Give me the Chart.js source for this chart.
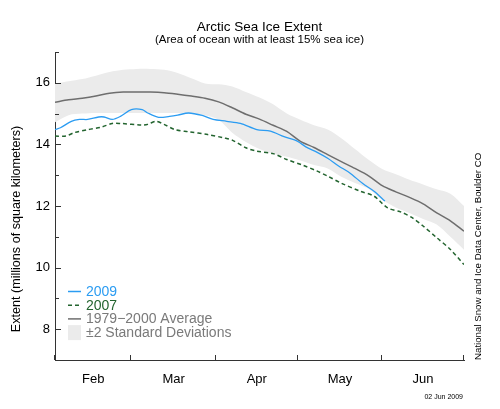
<!DOCTYPE html>
<html>
<head>
<meta charset="utf-8">
<script src="https://cdn.jsdelivr.net/npm/chart.js@4"></script>
<style>
  body { margin: 0; background: #fff; }
  #wrap { width: 500px; height: 409px; }
</style>
</head>
<body>
<div id="wrap"><canvas id="iceChart" width="500" height="409"></canvas></div>
<script>
// x values are days since Feb 1 (Feb 1 = 0, Jul 1 = 150)
const monthLabels = ['Feb', 'Mar', 'Apr', 'May', 'Jun'];
const monthEdges = [0, 28, 59, 89, 120, 150];
const monthMids = [14, 43.5, 74, 104.5, 135];

const yTickLabels = [8, 10, 12, 14, 16];

// 1979-2000 average and +/-2 std dev band, every 5 days
const avgDays = [0, 5, 10, 15, 20, 25, 30, 35, 40, 45, 50, 55, 60, 65, 70, 75, 80, 85, 90, 95, 100, 105, 110, 115, 120, 125, 130, 135, 140, 145, 150];
const avgExtent = [15.37, 15.45, 15.50, 15.57, 15.66, 15.70, 15.70, 15.70, 15.68, 15.63, 15.57, 15.50, 15.38, 15.19, 14.98, 14.82, 14.62, 14.42, 14.10, 13.90, 13.67, 13.44, 13.22, 12.98, 12.66, 12.46, 12.28, 12.07, 11.78, 11.52, 11.18];
const sdUpper = [15.97, 16.05, 16.12, 16.23, 16.35, 16.42, 16.45, 16.45, 16.42, 16.32, 16.15, 15.98, 15.95, 15.88, 15.70, 15.52, 15.30, 15.00, 14.80, 14.62, 14.48, 14.20, 13.85, 13.50, 13.20, 13.03, 12.85, 12.70, 12.54, 12.40, 12.00];
const sdLower = [14.72, 14.95, 15.00, 15.02, 15.02, 15.02, 15.02, 15.02, 15.02, 15.02, 15.00, 14.95, 14.80, 14.38, 14.08, 13.85, 13.70, 13.60, 13.48, 13.33, 13.22, 12.95, 12.75, 12.56, 12.20, 11.95, 11.77, 11.58, 11.40, 11.00, 10.58];

// 2009 (through Jun 1)
const days2009 = [0, 2, 6, 9, 12, 16, 18, 21, 24, 28, 32, 34, 38, 42, 45, 49, 54, 58, 63, 68, 74, 79, 84, 89, 92, 96, 100, 104, 108, 113, 117, 121];
const ext2009 = [14.48, 14.54, 14.75, 14.81, 14.81, 14.89, 14.89, 14.81, 14.91, 15.13, 15.13, 15.02, 14.88, 14.91, 14.95, 15.02, 14.94, 14.81, 14.75, 14.68, 14.48, 14.43, 14.25, 14.10, 13.92, 13.75, 13.55, 13.30, 13.08, 12.72, 12.48, 12.16];

// 2007
const days2007 = [0, 4, 7, 12, 17, 21, 24, 32, 34, 37, 40, 44, 49, 56, 62, 65, 70, 74, 80, 85, 91, 96, 100, 105, 112, 117, 122, 127, 131, 135, 140, 145, 150];
const ext2007 = [14.27, 14.27, 14.38, 14.48, 14.56, 14.68, 14.68, 14.63, 14.65, 14.75, 14.65, 14.48, 14.41, 14.32, 14.21, 14.14, 13.89, 13.78, 13.70, 13.51, 13.32, 13.14, 12.97, 12.74, 12.48, 12.32, 11.94, 11.80, 11.62, 11.35, 10.97, 10.59, 10.10];

const FONT = "'Liberation Sans', Arial, Helvetica, sans-serif";
const BLUE = '#2b9cf2';
const GREEN = '#23642f';
const GRAY_LINE = '#6e6e6e';
const BAND = '#ebebeb';

const toXY = (xs, ys) => xs.map((d, i) => ({ x: d, y: ys[i] }));

// Inward tick marks, legend and side texts
const decor = {
    id: 'decor',
    afterDraw(chart) {
        const { ctx, chartArea: a, scales: { x, y } } = chart;
        ctx.save();
        ctx.strokeStyle = '#333';
        ctx.lineWidth = 1;

        y.ticks.forEach(t => {
            const py = Math.round(y.getPixelForValue(t.value)) + 0.5;
            const len = t.value % 2 === 0 ? 6 : 4;
            ctx.beginPath();
            ctx.moveTo(a.left, py);
            ctx.lineTo(a.left + len, py);
            ctx.stroke();
        });
        monthEdges.forEach(d => {
            const px = Math.round(x.getPixelForValue(d)) - 0.5;
            ctx.beginPath();
            ctx.moveTo(px, a.bottom);
            ctx.lineTo(px, a.bottom - 5);
            ctx.stroke();
        });

        // legend
        const lx = 68, tx = 86;
        const rows = [
            { text: '2009', color: BLUE, line: BLUE, dash: [] },
            { text: '2007', color: GREEN, line: GREEN, dash: [4, 3] },
            { text: '1979\u22122000 Average', color: '#7a7a7a', line: GRAY_LINE, dash: [] },
            { text: '\u00b12 Standard Deviations', color: '#7a7a7a', box: true }
        ];
        ctx.font = '14px ' + FONT;
        ctx.textBaseline = 'middle';
        ctx.textAlign = 'left';
        rows.forEach((r, i) => {
            const ry = 291.5 + i * 13.7;
            if (r.box) {
                ctx.fillStyle = BAND;
                ctx.fillRect(lx, ry - 7.5, 13, 15);
            } else {
                ctx.strokeStyle = r.line;
                ctx.lineWidth = 1.5;
                ctx.setLineDash(r.dash);
                ctx.beginPath();
                ctx.moveTo(lx, ry);
                ctx.lineTo(lx + 13, ry);
                ctx.stroke();
                ctx.setLineDash([]);
            }
            ctx.fillStyle = r.color;
            ctx.fillText(r.text, tx, ry + 0.5);
        });

        // y axis title
        ctx.fillStyle = '#000';
        ctx.font = '12.6px ' + FONT;
        ctx.textAlign = 'center';
        ctx.save();
        ctx.translate(17, 229);
        ctx.rotate(-Math.PI / 2);
        ctx.fillText('Extent (millions of square kilometers)', 0, 0);
        ctx.restore();

        // credit on the right
        ctx.font = '9.7px ' + FONT;
        ctx.textAlign = 'left';
        ctx.save();
        ctx.translate(478, 360);
        ctx.rotate(-Math.PI / 2);
        ctx.fillText('National Snow and Ice Data Center, Boulder CO', 0, 0);
        ctx.restore();

        // date stamp
        ctx.font = '7px ' + FONT;
        ctx.textAlign = 'right';
        ctx.fillText('02 Jun 2009', 463, 397.5);
        ctx.restore();
    }
};

const iceChart = new Chart(document.getElementById('iceChart'), {
    type: 'line',
    data: {
        datasets: [{
            label: '2009',
            data: toXY(days2009, ext2009),
            borderColor: BLUE,
            borderWidth: 1.3,
            pointRadius: 0,
            tension: 0.3,
            fill: false
        }, {
            label: '2007',
            data: toXY(days2007, ext2007),
            borderColor: GREEN,
            borderWidth: 1.5,
            borderDash: [4, 3],
            pointRadius: 0,
            tension: 0.3,
            fill: false
        }, {
            label: '1979-2000 Average',
            data: toXY(avgDays, avgExtent),
            borderColor: GRAY_LINE,
            borderWidth: 1.5,
            pointRadius: 0,
            tension: 0.3,
            fill: false
        }, {
            label: '+2 SD',
            data: toXY(avgDays, sdUpper),
            borderWidth: 0,
            borderColor: 'rgba(0,0,0,0)',
            backgroundColor: BAND,
            pointRadius: 0,
            tension: 0.3,
            fill: '+1'
        }, {
            label: '-2 SD',
            data: toXY(avgDays, sdLower),
            borderWidth: 0,
            borderColor: 'rgba(0,0,0,0)',
            pointRadius: 0,
            tension: 0.3,
            fill: false
        }]
    },
    options: {
        responsive: false,
        animation: false,
        layout: { padding: { left: 0, right: 36, top: 0, bottom: 0 } },
        plugins: {
            legend: { display: false },
            tooltip: { enabled: false },
            title: {
                display: true,
                fullSize: false,
                text: 'Arctic Sea Ice Extent',
                color: '#000',
                font: { family: FONT, size: 13.5, weight: 'normal', lineHeight: 1 },
                padding: { top: 21, bottom: 0 }
            },
            subtitle: {
                display: true,
                fullSize: false,
                text: '(Area of ocean with at least 15% sea ice)',
                color: '#000',
                font: { family: FONT, size: 11.5, weight: 'normal', lineHeight: 1 },
                padding: { top: 0, bottom: 6 }
            }
        },
        scales: {
            x: {
                type: 'linear',
                min: 0,
                max: 150,
                grid: { display: false, drawTicks: false },
                border: { display: true, color: '#333', width: 1 },
                afterBuildTicks: scale => { scale.ticks = monthMids.map(v => ({ value: v })); },
                afterFit: scale => { scale.height = 49; },
                ticks: {
                    autoSkip: false,
                    maxRotation: 0,
                    padding: 12,
                    color: '#000',
                    font: { family: FONT, size: 13 },
                    callback: (v, i) => monthLabels[i]
                }
            },
            y: {
                min: 7,
                max: 17,
                grid: { display: false, drawTicks: false },
                border: { display: true, color: '#333', width: 1 },
                afterFit: scale => { scale.width = 55; },
                ticks: {
                    stepSize: 0.5,
                    padding: 5,
                    color: '#000',
                    font: { family: FONT, size: 13 },
                    callback: v => yTickLabels.includes(v) ? String(v) : ''
                }
            }
        }
    },
    plugins: [decor]
});
</script>
</body>
</html>
